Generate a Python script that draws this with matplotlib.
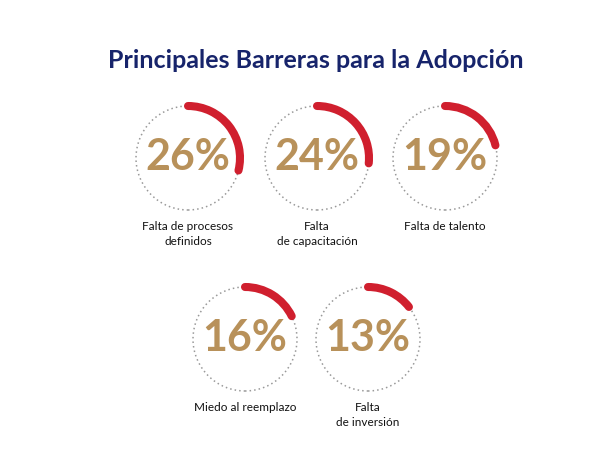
import matplotlib
matplotlib.use('Agg')
import matplotlib.pyplot as plt
from matplotlib.patches import Arc, Circle

title = 'Principales Barreras para la Adopción'
labels = ['Falta de procesos\ndefinidos', 'Falta\nde capacitación', 'Falta de talento',
          'Miedo al reemplazo', 'Falta\nde inversión']
values = [26, 24, 19, 16, 13]

# posiciones en pixeles (origen arriba a la izquierda)
cx = [188, 317, 445, 245, 368]
cy = [158, 158, 158, 339, 339]
R = 52
ARC_SCALE = 1.11  # el arco del original es un poco mas largo que el porcentaje

RED = '#d01f2e'
GOLD = '#b8915a'
NAVY = '#17246b'

W, H = 591, 450
fig = plt.figure(figsize=(W / 100, H / 100), dpi=100)
ax = fig.add_axes([0, 0, 1, 1])
ax.set_xlim(0, W)
ax.set_ylim(0, H)
ax.set_aspect('equal')
ax.axis('off')

ax.text(316, H - 61, title, ha='center', va='center', fontsize=18,
        fontweight='bold', color=NAVY, family='Lato')

for x, y, v, lab in zip(cx, cy, values, labels):
    yy = H - y
    ax.add_patch(Circle((x, yy), R, fill=False, ec='#999999', lw=1.1,
                        ls=(0, (1, 2.0))))
    span = v * 3.6 * ARC_SCALE
    ax.add_patch(Arc((x, yy), 2 * R, 2 * R, theta1=90 - span, theta2=90,
                     color=RED, lw=5.8, capstyle='round'))
    ax.text(x, yy + 1, f'{v}%', ha='center', va='center', fontsize=31,
            fontweight='bold', color=GOLD, family='Lato')
    ax.text(x, yy - R - 11, lab, ha='center', va='top', fontsize=8.5,
            color='#111111', family='Lato', linespacing=1.45)

fig.savefig('out.png', dpi=100, facecolor='white')
